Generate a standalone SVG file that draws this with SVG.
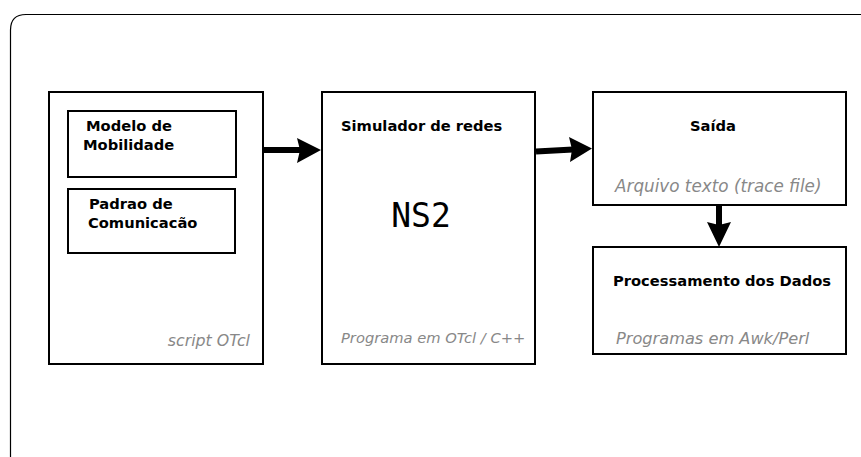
<svg xmlns="http://www.w3.org/2000/svg" width="861" height="457" viewBox="0 0 861 457">
  <defs>
    <style>
      .frame { fill: none; stroke: #000; stroke-width: 1.2; }
      .box { fill: #fff; stroke: #000; stroke-width: 2; }
      .title { font-family: "DejaVu Sans", sans-serif; font-weight: bold; font-size: 14.7px; fill: #000; }
      .note { font-family: "DejaVu Sans", sans-serif; font-style: italic; font-size: 14.7px; fill: #888888; }
      .big { font-family: "DejaVu Sans Mono", monospace; font-size: 33px; fill: #000; }
      .shaft { fill: none; stroke: #000; stroke-width: 6; }
      .head { fill: #000; stroke: none; }
    </style>
  </defs>

  <rect width="861" height="457" fill="#fff"/>

  <!-- outer rounded frame, running past the right and bottom edges -->
  <path class="frame" d="M 10.5 470 L 10.5 30 Q 10.5 14.5 26 14.5 L 880 14.5"/>

  <g id="script-otcl">
    <rect class="box" x="49" y="92" width="214" height="272"/>
    <text class="note" x="250" y="346" text-anchor="end" style="font-size:15.8px">script OTcl</text>
  </g>

  <g id="modelo-mobilidade">
    <rect class="box" x="68" y="111" width="168" height="66"/>
    <text class="title" x="86" y="131">Modelo de</text>
    <text class="title" x="83" y="150">Mobilidade</text>
  </g>

  <g id="padrao-comunicacao">
    <rect class="box" x="68" y="189" width="167" height="64"/>
    <text class="title" x="89" y="209">Padrao de</text>
    <text class="title" x="88" y="228">Comunicacão</text>
  </g>

  <g id="ns2">
    <rect class="box" x="322" y="92" width="213" height="272"/>
    <text class="title" x="341" y="131">Simulador de redes</text>
    <text class="big" x="421" y="227" text-anchor="middle">NS2</text>
    <text class="note" x="341" y="343">Programa em OTcl / C++</text>
  </g>

  <g id="saida">
    <rect class="box" x="593" y="92" width="253" height="113"/>
    <text class="title" x="713" y="131" text-anchor="middle">Saída</text>
    <text class="note" x="615" y="192" style="font-size:16.8px">Arquivo texto (trace file)</text>
  </g>

  <g id="processamento">
    <rect class="box" x="593" y="247" width="253" height="107"/>
    <text class="title" x="613" y="286">Processamento dos Dados</text>
    <text class="note" x="616" y="344" style="font-size:16.2px">Programas em Awk/Perl</text>
  </g>

  <g id="connectors">
    <!-- script -> simulator -->
    <line class="shaft" x1="263" y1="150" x2="300" y2="150"/>
    <path class="head" d="M 321 150 L 297 138 L 300 150 L 297 163 Z"/>
    <!-- simulator -> output -->
    <line class="shaft" x1="536" y1="151.5" x2="573" y2="149.5"/>
    <path class="head" d="M 592 148.5 L 569 137 L 572 149.5 L 570 162 Z"/>
    <!-- output -> processing -->
    <line class="shaft" x1="719" y1="205" x2="719" y2="225"/>
    <path class="head" d="M 719 247 L 707 222 L 719 225 L 731 222 Z"/>
  </g>
</svg>
